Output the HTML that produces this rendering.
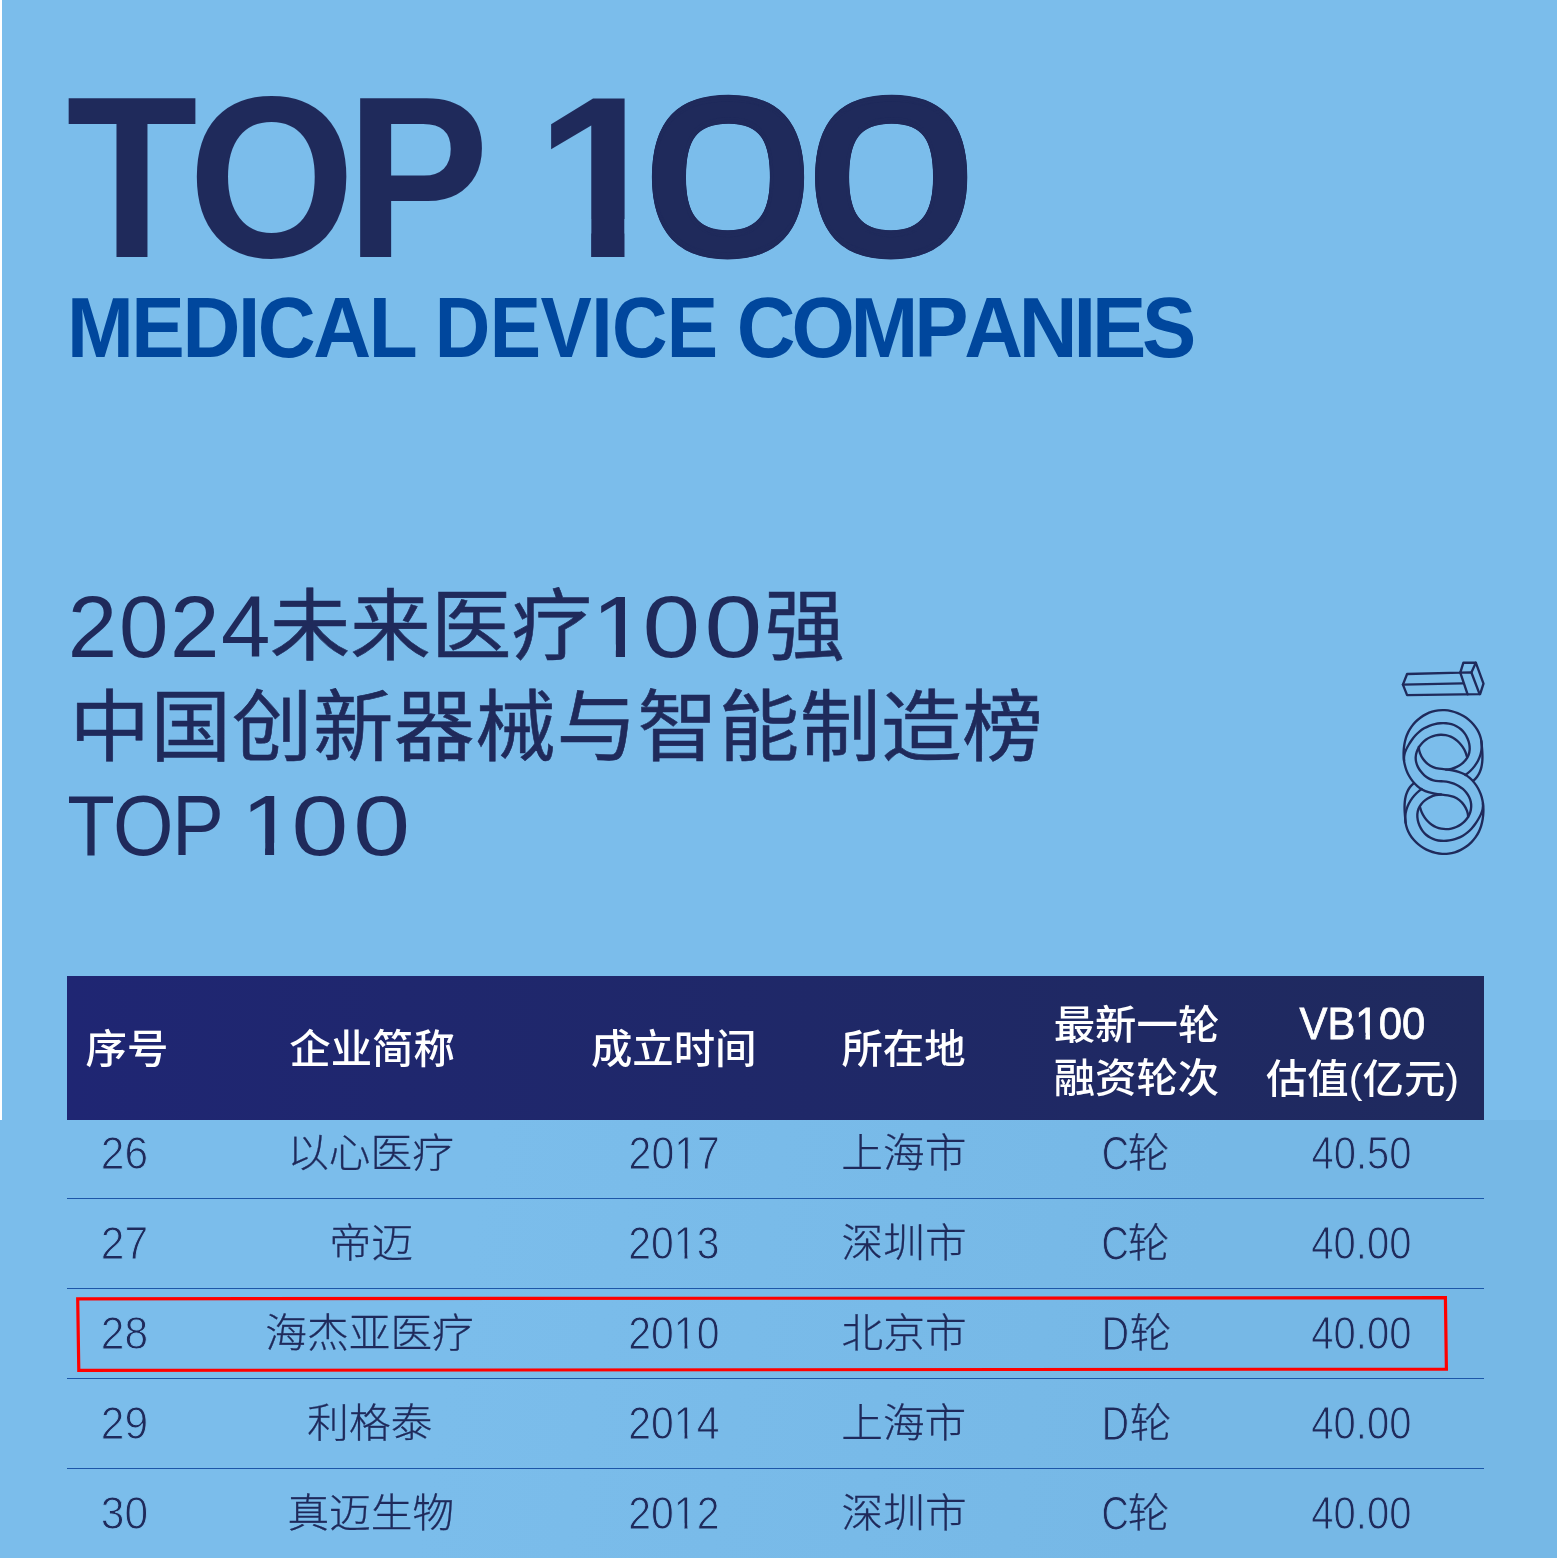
<!DOCTYPE html>
<html lang="zh-CN">
<head>
<meta charset="utf-8">
<title>2024未来医疗100强 中国创新器械与智能制造榜 TOP 100</title>
<style>
html,body{margin:0;padding:0;background:#fff}
body{width:1558px;height:1558px;overflow:hidden;position:relative;font-family:"Liberation Sans","Noto Sans CJK SC",sans-serif}
.page{position:absolute;left:0;top:0;width:1558px;height:1558px;overflow:hidden;background:#fff}
.bg1{position:absolute;left:2.4px;top:0;width:1554.3px;height:1120px;background:#7bbdeb}
.bg2{position:absolute;left:0;top:1119.6px;width:1556.7px;height:438.4px;background:linear-gradient(100deg,#7bbdeb 0%,#7bbdeb 30%,#76b8e6 75%,#76b8e6 100%)}
.ln{position:absolute;left:0;top:0;margin:0;padding:0;font-size:0;line-height:0;white-space:nowrap;font-weight:400}
.w{display:inline-block;width:0;height:0;overflow:visible;vertical-align:top;line-height:1;white-space:pre;transform-origin:0 0;font-kerning:none}
.fl::first-letter{letter-spacing:var(--fl)}
.lt{-webkit-text-stroke:1.0px #7bbdeb}
.hv{-webkit-text-stroke:.6px}
.rv{-webkit-text-stroke:.3px}
.hw{-webkit-text-stroke:.8px}
.z0{text-shadow:0.0117em 0 0,0.0108em 0.0124em 0,0.0083em 0.023em 0,0.0045em 0.03em 0,0 0.0325em 0,-0.0045em 0.03em 0,-0.0083em 0.023em 0,-0.0108em 0.0124em 0,-0.0117em 0 0,-0.0108em -0.0124em 0,-0.0083em -0.023em 0,-0.0045em -0.03em 0,0 -0.0325em 0,0.0045em -0.03em 0,0.0083em -0.023em 0,0.0108em -0.0124em 0}
.la{font-family:"Liberation Sans",sans-serif}
.zh{font-family:"Liberation Sans","Noto Sans CJK SC",sans-serif}
.title{color:#1f2a5b;font-weight:700}
.sub{color:#00479d;font-weight:700}
.cn{margin:0;color:#1f2a5b}
.logo,.mark{position:absolute;left:0;top:0;width:1558px;height:1558px;overflow:visible;pointer-events:none}
.logo path{fill:none;stroke:#1f2a5b;stroke-width:2.35;stroke-linejoin:round;stroke-linecap:round}
.thead-bg{position:absolute;left:67.4px;top:976px;width:1417px;height:143.8px;background:linear-gradient(90deg,#1f2673 0%,#1f2a5e 100%)}
.th{color:#fff}
.tr{color:#1f2a5b}
.hr{position:absolute;left:67.4px;width:1416.6px;height:1.4px;background:#1d56a8}
</style>
</head>
<body>
<main class="page">
<div class="bg1"></div>
<div class="bg2"></div>
<h1 class="title ln"><span id="t_top" class="w la" style="font-size:230.74px;letter-spacing:-10.319px;transform:translate(66.19px,62.02px) scale(0.9323,1)">TOP</span> <span id="t_1" class="w la" style="font-size:230.74px;clip-path:polygon(-92.30px -92.30px,220.62px -92.30px,220.62px 346.11px,123.40px 346.11px,123.40px 156.90px,85.51px 156.90px,85.51px 346.11px,53.85px 346.11px,53.85px 156.90px,13.03px 156.90px,13.03px 346.11px,-92.30px 346.11px);transform:translate(534.38px,62.02px) scale(1.0539,1)">1</span><span id="t_00" class="w la z0" style="font-size:212.86px;font-weight:400;letter-spacing:-4.013px;transform:translate(643.57px,70.41px) scale(1.4265,1)">00</span></h1>
<p class="sub ln"><span id="s_1" class="w la" style="font-size:85.81px;letter-spacing:-2.599px;transform:translate(66.92px,284.62px) scale(0.935,1)">MEDICAL</span> <span id="s_2" class="w la" style="font-size:85.81px;letter-spacing:-0.666px;transform:translate(434.77px,284.62px) scale(0.8965,1)">DEVICE</span> <span id="s_3" class="w la" style="font-size:85.81px;letter-spacing:-4.369px;transform:translate(736.81px,284.62px) scale(0.948,1)">COMPANIES</span></p>
<h2 class="cn"><span class="ln"><span id="h1_a" class="w la" style="font-size:86.4px;letter-spacing:1.648px;transform:translate(67.87px,583.94px) scale(1.0279,1)">2024</span><span id="h1_b" class="w zh hv" style="font-size:80.5px;letter-spacing:0.05px;transform:translate(269.81px,587.53px) scale(1,0.975)">未来医疗</span><span id="h1_c" class="w la fl" style="font-size:86.4px;letter-spacing:3.615px;--fl:-4.048px;clip-path:polygon(9.53px -34.56px,181.90px -34.56px,181.90px 129.60px,45.33px 129.60px,45.33px 60.48px,29.36px 60.48px,29.36px 129.60px,21.73px 129.60px,21.73px 60.48px,9.53px 60.48px,9.53px 129.60px,9.53px 129.60px);transform:translate(589.76px,583.94px) scale(1.2,1)">100</span><span id="h1_d" class="w zh hv" style="font-size:80.5px;transform:translate(764.56px,587.52px) scale(1,0.975)">强</span></span>
<span class="ln"><span id="h2_a" class="w zh hv" style="font-size:80.5px;letter-spacing:0.662px;transform:translate(69.45px,688.73px) scale(1,0.975)">中国创新器械与智能制造榜</span></span>
<span class="ln"><span id="h3_a" class="w la" style="font-size:85.11px;letter-spacing:-1.819px;transform:translate(67.14px,783.12px) scale(0.9145,1)">TOP</span> <span id="h3_b" class="w la fl" style="font-size:85.11px;letter-spacing:4.041px;--fl:-3.869px;clip-path:polygon(9.26px -34.04px,180.26px -34.04px,180.26px 127.66px,44.68px 127.66px,44.68px 59.58px,28.92px 59.58px,28.92px 127.66px,21.40px 127.66px,21.40px 59.58px,9.26px 59.58px,9.26px 127.66px,9.26px 127.66px);transform:translate(239.39px,783.12px) scale(1.2,1)">100</span></span></h2>
<svg class="logo" viewBox="0 0 1558 1558" aria-hidden="true"><path d="M1465.35 774.96C1467.04 773.85 1468.69 772.53 1470.24 771.03C1471.79 769.54 1473.25 767.88 1474.58 766.10C1475.90 764.32 1477.10 762.41 1478.11 760.42C1479.12 758.44 1479.96 756.38 1480.57 754.28C1481.19 752.18 1481.58 750.06 1481.72 747.93C1481.86 745.81 1481.77 743.69 1481.47 741.61C1481.17 739.52 1480.65 737.47 1479.94 735.47C1479.23 733.48 1478.32 731.54 1477.24 729.70C1476.17 727.85 1474.91 726.09 1473.50 724.44C1472.10 722.80 1470.54 721.27 1468.86 719.86C1467.18 718.46 1465.38 717.18 1463.49 716.04C1461.59 714.91 1459.61 713.92 1457.57 713.09C1455.53 712.26 1453.43 711.58 1451.30 711.08C1449.17 710.59 1447.01 710.26 1444.85 710.13C1442.69 709.99 1440.53 710.05 1438.40 710.31C1436.28 710.57 1434.18 711.03 1432.13 711.67C1430.09 712.30 1428.09 713.12 1426.18 714.09C1424.26 715.06 1422.42 716.19 1420.67 717.46C1418.93 718.73 1417.28 720.14 1415.75 721.68C1414.23 723.21 1412.82 724.86 1411.56 726.61C1410.29 728.36 1409.18 730.21 1408.22 732.14C1407.27 734.08 1406.49 736.09 1405.85 738.16C1405.22 740.23 1404.74 742.35 1404.38 744.50C1404.02 746.64 1403.79 748.81 1403.68 750.98C1403.56 753.14 1403.56 755.31 1403.70 757.46C1403.84 759.61 1404.12 761.75 1404.56 763.86C1405.00 765.97 1405.60 768.05 1406.37 770.09C1407.13 772.12 1408.06 774.10 1409.14 776.00C1410.22 777.89 1411.45 779.69 1412.81 781.38C1414.18 783.06 1415.68 784.62 1417.30 786.02C1418.93 787.42 1420.68 788.66 1422.54 789.70C1424.40 790.75 1426.38 791.59 1428.43 792.24C1430.49 792.89 1432.63 793.36 1434.80 793.73C1436.96 794.09 1439.16 794.34 1441.33 794.56C1443.51 794.78 1445.66 794.99 1447.77 795.34C1449.87 795.69 1451.91 796.18 1453.87 796.95C1455.82 797.73 1457.68 798.84 1459.38 800.21C1461.09 801.58 1462.62 803.21 1463.92 805.01C1465.22 806.81 1466.28 808.78 1467.02 810.82C1467.76 812.87 1468.18 814.99 1468.20 817.10"/><path d="M1421.65 789.04C1419.96 790.15 1418.31 791.47 1416.76 792.97C1415.21 794.46 1413.75 796.12 1412.42 797.90C1411.10 799.68 1409.90 801.59 1408.89 803.58C1407.88 805.56 1407.04 807.62 1406.43 809.72C1405.81 811.82 1405.42 813.94 1405.28 816.07C1405.14 818.19 1405.23 820.31 1405.53 822.39C1405.83 824.48 1406.35 826.53 1407.06 828.53C1407.77 830.52 1408.68 832.46 1409.76 834.30C1410.83 836.15 1412.09 837.91 1413.50 839.56C1414.90 841.20 1416.46 842.73 1418.14 844.14C1419.82 845.54 1421.62 846.82 1423.51 847.96C1425.41 849.09 1427.39 850.08 1429.43 850.91C1431.47 851.74 1433.57 852.42 1435.70 852.92C1437.83 853.41 1439.99 853.74 1442.15 853.87C1444.31 854.01 1446.47 853.95 1448.60 853.69C1450.72 853.43 1452.82 852.97 1454.87 852.33C1456.91 851.70 1458.91 850.88 1460.82 849.91C1462.74 848.94 1464.58 847.81 1466.33 846.54C1468.07 845.27 1469.72 843.86 1471.25 842.32C1472.77 840.79 1474.18 839.14 1475.44 837.39C1476.71 835.64 1477.82 833.79 1478.78 831.86C1479.73 829.92 1480.51 827.91 1481.15 825.84C1481.78 823.77 1482.26 821.65 1482.62 819.50C1482.98 817.36 1483.21 815.19 1483.32 813.02C1483.44 810.86 1483.44 808.69 1483.30 806.54C1483.16 804.39 1482.88 802.25 1482.44 800.14C1482.00 798.03 1481.40 795.95 1480.63 793.91C1479.87 791.88 1478.94 789.90 1477.86 788.00C1476.78 786.11 1475.55 784.31 1474.19 782.62C1472.82 780.94 1471.32 779.38 1469.70 777.98C1468.07 776.58 1466.32 775.34 1464.46 774.30C1462.60 773.25 1460.62 772.41 1458.57 771.76C1456.51 771.11 1454.37 770.64 1452.20 770.27C1450.04 769.91 1447.84 769.66 1445.67 769.44C1443.49 769.22 1441.34 769.01 1439.23 768.66C1437.13 768.31 1435.09 767.82 1433.13 767.05C1431.18 766.27 1429.32 765.16 1427.62 763.79C1425.91 762.42 1424.38 760.79 1423.08 758.99C1421.78 757.19 1420.72 755.22 1419.98 753.18C1419.24 751.13 1418.82 749.01 1418.80 746.90"/><path d="M1404.10 760.50C1403.88 758.51 1404.01 756.63 1404.38 754.84C1404.76 753.04 1405.37 751.32 1406.13 749.64C1406.89 747.97 1407.78 746.34 1408.73 744.72C1409.68 743.10 1410.70 741.50 1411.80 739.96C1412.89 738.42 1414.07 736.93 1415.34 735.53C1416.61 734.12 1417.98 732.80 1419.44 731.59C1420.91 730.38 1422.48 729.29 1424.13 728.32C1425.79 727.35 1427.52 726.51 1429.31 725.80C1431.10 725.09 1432.94 724.51 1434.80 724.08C1436.66 723.64 1438.55 723.35 1440.43 723.21C1442.31 723.07 1444.19 723.07 1446.03 723.24C1447.87 723.41 1449.68 723.73 1451.43 724.23C1453.17 724.72 1454.86 725.38 1456.45 726.22C1458.04 727.05 1459.54 728.07 1460.93 729.26C1462.31 730.46 1463.57 731.85 1464.68 733.40C1465.79 734.94 1466.75 736.63 1467.52 738.41C1468.30 740.19 1468.89 742.05 1469.25 743.93C1469.62 745.81 1469.77 747.72 1469.66 749.58C1469.56 751.44 1469.20 753.27 1468.55 754.99C1467.91 756.71 1466.96 758.32 1465.80 759.80C1464.64 761.28 1463.25 762.63 1461.72 763.82C1460.19 765.01 1458.51 766.04 1456.77 766.89C1455.02 767.74 1453.20 768.40 1451.38 768.85C1449.56 769.30 1447.74 769.55 1446.01 769.55"/><path d="M1482.90 803.50C1483.12 805.49 1482.99 807.37 1482.62 809.16C1482.24 810.96 1481.63 812.68 1480.87 814.36C1480.11 816.03 1479.22 817.66 1478.27 819.28C1477.32 820.90 1476.30 822.50 1475.20 824.04C1474.11 825.58 1472.93 827.07 1471.66 828.47C1470.39 829.88 1469.02 831.20 1467.56 832.41C1466.09 833.62 1464.52 834.71 1462.87 835.68C1461.21 836.65 1459.48 837.49 1457.69 838.20C1455.90 838.91 1454.06 839.49 1452.20 839.92C1450.34 840.36 1448.45 840.65 1446.57 840.79C1444.69 840.93 1442.81 840.93 1440.97 840.76C1439.13 840.59 1437.32 840.27 1435.57 839.77C1433.83 839.28 1432.14 838.62 1430.55 837.78C1428.96 836.95 1427.46 835.93 1426.07 834.74C1424.69 833.54 1423.43 832.15 1422.32 830.60C1421.21 829.06 1420.25 827.37 1419.48 825.59C1418.70 823.81 1418.11 821.95 1417.75 820.07C1417.38 818.19 1417.23 816.28 1417.34 814.42C1417.44 812.56 1417.80 810.73 1418.45 809.01C1419.09 807.29 1420.04 805.68 1421.20 804.20C1422.36 802.72 1423.75 801.37 1425.28 800.18C1426.81 798.99 1428.49 797.96 1430.23 797.11C1431.98 796.26 1433.80 795.60 1435.62 795.15C1437.44 794.70 1439.26 794.45 1440.99 794.45"/><path d="M1466.80 756.30C1466.44 754.69 1465.89 753.08 1465.19 751.50C1464.48 749.93 1463.62 748.39 1462.62 746.92C1461.62 745.46 1460.49 744.06 1459.25 742.78C1458.01 741.49 1456.66 740.32 1455.22 739.29C1453.78 738.27 1452.26 737.39 1450.68 736.69C1449.10 736.00 1447.46 735.49 1445.78 735.18C1444.11 734.86 1442.41 734.73 1440.70 734.77C1439.00 734.82 1437.29 735.03 1435.62 735.41C1433.94 735.79 1432.30 736.34 1430.72 737.04C1429.14 737.74 1427.62 738.59 1426.19 739.58C1424.76 740.57 1423.43 741.71 1422.22 742.98C1421.01 744.24 1419.92 745.65 1418.99 747.16C1418.06 748.67 1417.30 750.28 1416.73 751.94C1416.17 753.60 1415.82 755.31 1415.71 757.01C1415.60 758.71 1415.76 760.40 1416.14 762.05C1416.51 763.70 1417.11 765.32 1417.88 766.87C1418.66 768.43 1419.61 769.93 1420.70 771.34C1421.79 772.75 1423.02 774.08 1424.35 775.27C1425.68 776.46 1427.12 777.51 1428.64 778.37C1430.15 779.24 1431.74 779.91 1433.38 780.35C1435.02 780.78 1436.70 780.98 1438.41 781.10C1440.12 781.22 1441.85 781.25 1443.59 781.36C1445.33 781.47 1447.07 781.66 1448.79 782.03C1450.51 782.40 1452.21 782.92 1453.86 783.57C1455.50 784.22 1457.10 785.00 1458.61 785.91C1460.12 786.81 1461.54 787.84 1462.86 788.98C1464.17 790.11 1465.37 791.35 1466.42 792.69C1467.47 794.02 1468.38 795.45 1469.11 796.96C1469.85 798.48 1470.40 800.07 1470.76 801.73C1471.11 803.39 1471.25 805.12 1471.17 806.87C1471.09 808.62 1470.80 810.37 1470.28 812.07C1469.76 813.76 1469.02 815.38 1468.09 816.91C1467.16 818.43 1466.06 819.85 1464.83 821.13C1463.60 822.41 1462.25 823.54 1460.81 824.53C1459.37 825.51 1457.84 826.34 1456.26 827.01C1454.68 827.69 1453.03 828.20 1451.36 828.56C1449.69 828.91 1447.99 829.10 1446.29 829.13C1444.58 829.16 1442.88 829.02 1441.21 828.71C1439.54 828.40 1437.90 827.92 1436.32 827.27C1434.73 826.61 1433.21 825.78 1431.77 824.78C1430.34 823.77 1428.99 822.60 1427.75 821.30C1426.51 820.01 1425.38 818.59 1424.39 817.10C1423.39 815.62 1422.53 814.06 1421.83 812.47C1421.12 810.89 1420.57 809.29 1420.20 807.70"/><path d="M1481.30 741.00C1481.47 742.69 1481.66 744.41 1481.83 746.17C1482.00 747.92 1482.16 749.70 1482.27 751.50C1482.39 753.29 1482.46 755.09 1482.46 756.88C1482.46 758.67 1482.38 760.45 1482.21 762.20C1482.03 763.95 1481.75 765.68 1481.35 767.36C1480.94 769.04 1480.40 770.67 1479.70 772.24C1479.01 773.81 1478.15 775.31 1477.10 776.73C1476.06 778.16 1474.83 779.49 1473.38 780.73"/><path d="M1405.70 823.00C1405.53 821.31 1405.34 819.59 1405.17 817.83C1405.00 816.08 1404.84 814.30 1404.73 812.50C1404.61 810.71 1404.54 808.91 1404.54 807.12C1404.54 805.33 1404.62 803.55 1404.79 801.80C1404.97 800.05 1405.25 798.32 1405.65 796.64C1406.06 794.96 1406.60 793.33 1407.30 791.76C1407.99 790.19 1408.85 788.69 1409.90 787.27C1410.94 785.84 1412.17 784.51 1413.62 783.27"/><path d="M1407.1 674.0L1402.9 684.6L1407.1 695.1L1480.1 694.1L1483.5 683.6L1475.8 662.7L1463.4 662.7L1460.3 672.7Z"/><path d="M1402.9 684.6L1462.6 683.4"/><path d="M1460.3 672.7L1467.6 694.3"/><path d="M1460.3 672.7L1471.4 672.5L1479.6 694.1"/><path d="M1475.8 662.7L1471.4 672.5"/></svg>
<div class="table" role="table">
<div class="thead-bg"></div>
<div class="thead" role="row"><div class="th" role="columnheader"><div class="ln"><span id="th1" class="w zh" style="font-size:41.4px;font-weight:500;transform:translate(85.53px,1030.15px) scale(1,0.9697)">序号</span></div></div>
<div class="th" role="columnheader"><div class="ln"><span id="th2" class="w zh" style="font-size:41.4px;font-weight:500;transform:translate(289.27px,1030.15px) scale(1,0.9697)">企业简称</span></div></div>
<div class="th" role="columnheader"><div class="ln"><span id="th3" class="w zh" style="font-size:41.4px;font-weight:500;transform:translate(590.89px,1030.15px) scale(1,0.9697)">成立时间</span></div></div>
<div class="th" role="columnheader"><div class="ln"><span id="th4" class="w zh" style="font-size:41.4px;font-weight:500;transform:translate(841.45px,1030.15px) scale(1,0.9697)">所在地</span></div></div>
<div class="th" role="columnheader"><div class="ln"><span id="th5a" class="w zh" style="font-size:41.4px;font-weight:500;transform:translate(1053.73px,1006.21px) scale(1,0.9697)">最新一轮</span></div>
<div class="ln"><span id="th5b" class="w zh" style="font-size:41.4px;font-weight:500;transform:translate(1053.69px,1059.32px) scale(1,0.9697)">融资轮次</span></div></div>
<div class="th" role="columnheader"><div class="ln"><span id="th6a" class="w la hw" style="font-size:45.14px;clip-path:polygon(-18.06px -18.06px,153.59px -18.06px,153.59px 67.71px,85.02px 67.71px,85.02px 31.60px,75.96px 31.60px,75.96px 67.71px,71.17px 67.71px,71.17px 31.60px,61.75px 31.60px,61.75px 67.71px,-18.06px 67.71px);transform:translate(1299.48px,1001.18px) scale(0.9282,1)">VB100</span></div>
<div class="ln"><span id="th6b" class="w zh" style="font-size:41.4px;font-weight:500;transform:translate(1265.97px,1059.81px) scale(1,0.9697)">估值(亿元)</span></div></div>
</div>
<div class="tr ln" role="row"><span class="td" role="cell"><span id="r0c1" class="w la lt" style="font-size:46.44px;transform:translate(100.82px,1130.34px) scale(0.9158,1)">26</span></span> <span class="td" role="cell"><span id="r0c2" class="w zh rv" style="font-size:41.69px;font-weight:300;transform:translate(287.14px,1133.49px) scale(1,0.9599)">以心医疗</span></span> <span class="td" role="cell"><span id="r0c3" class="w la lt" style="font-size:46.44px;-webkit-text-stroke-color:#7abcea;clip-path:polygon(-18.58px -18.58px,121.89px -18.58px,121.89px 69.66px,77.22px 69.66px,77.22px 32.51px,66.94px 32.51px,66.94px 69.66px,63.83px 69.66px,63.83px 32.51px,53.19px 32.51px,53.19px 69.66px,-18.58px 69.66px);transform:translate(628.61px,1130.34px) scale(0.8817,1)">2017</span></span> <span class="td" role="cell"><span id="r0c4" class="w zh rv" style="font-size:41.69px;font-weight:300;transform:translate(841.3px,1133.49px) scale(1,0.9599)">上海市</span></span> <span class="td" role="cell"><span id="r0c5a" class="w la lt" style="font-size:47.75px;-webkit-text-stroke-color:#77b9e7;transform:translate(1101.65px,1129.9px) scale(0.7912,1)">C</span><span id="r0c5b" class="w zh rv" style="font-size:41.69px;font-weight:300;transform:translate(1127.65px,1133.49px) scale(1,0.9599)">轮</span></span> <span class="td" role="cell"><span id="r0c6" class="w la lt" style="font-size:46.44px;-webkit-text-stroke-color:#76b8e6;transform:translate(1311.42px,1130.34px) scale(0.8611,1)">40.50</span></span></div>
<div class="tr ln" role="row"><span class="td" role="cell"><span id="r1c1" class="w la lt" style="font-size:46.44px;transform:translate(100.86px,1220.34px) scale(0.9158,1)">27</span></span> <span class="td" role="cell"><span id="r1c2" class="w zh rv" style="font-size:41.69px;font-weight:300;transform:translate(329.58px,1223.49px) scale(1,0.9599)">帝迈</span></span> <span class="td" role="cell"><span id="r1c3" class="w la lt" style="font-size:46.44px;-webkit-text-stroke-color:#7abcea;clip-path:polygon(-18.58px -18.58px,121.89px -18.58px,121.89px 69.66px,77.22px 69.66px,77.22px 32.51px,66.94px 32.51px,66.94px 69.66px,63.83px 69.66px,63.83px 32.51px,53.19px 32.51px,53.19px 69.66px,-18.58px 69.66px);transform:translate(628.32px,1220.34px) scale(0.8817,1)">2013</span></span> <span class="td" role="cell"><span id="r1c4" class="w zh rv" style="font-size:41.69px;font-weight:300;transform:translate(841.61px,1223.49px) scale(1,0.9599)">深圳市</span></span> <span class="td" role="cell"><span id="r1c5a" class="w la lt" style="font-size:47.75px;-webkit-text-stroke-color:#77b9e7;transform:translate(1101.46px,1219.9px) scale(0.7912,1)">C</span><span id="r1c5b" class="w zh rv" style="font-size:41.69px;font-weight:300;transform:translate(1127.78px,1223.49px) scale(1,0.9599)">轮</span></span> <span class="td" role="cell"><span id="r1c6" class="w la lt" style="font-size:46.44px;-webkit-text-stroke-color:#76b8e6;transform:translate(1311.34px,1220.34px) scale(0.8611,1)">40.00</span></span></div>
<div class="tr ln" role="row"><span class="td" role="cell"><span id="r2c1" class="w la lt" style="font-size:46.44px;transform:translate(100.86px,1310.34px) scale(0.9158,1)">28</span></span> <span class="td" role="cell"><span id="r2c2" class="w zh rv" style="font-size:41.69px;font-weight:300;transform:translate(265.32px,1313.49px) scale(1,0.9599)">海杰亚医疗</span></span> <span class="td" role="cell"><span id="r2c3" class="w la lt" style="font-size:46.44px;-webkit-text-stroke-color:#7abcea;clip-path:polygon(-18.58px -18.58px,121.89px -18.58px,121.89px 69.66px,77.22px 69.66px,77.22px 32.51px,66.94px 32.51px,66.94px 69.66px,63.83px 69.66px,63.83px 32.51px,53.19px 32.51px,53.19px 69.66px,-18.58px 69.66px);transform:translate(628.32px,1310.34px) scale(0.8817,1)">2010</span></span> <span class="td" role="cell"><span id="r2c4" class="w zh rv" style="font-size:41.69px;font-weight:300;transform:translate(841.6px,1313.49px) scale(1,0.9599)">北京市</span></span> <span class="td" role="cell"><span id="r2c5a" class="w la lt" style="font-size:47.75px;-webkit-text-stroke-color:#77b9e7;transform:translate(1101.78px,1309.9px) scale(0.7912,1)">D</span><span id="r2c5b" class="w zh rv" style="font-size:41.69px;font-weight:300;transform:translate(1129.78px,1313.49px) scale(1,0.9599)">轮</span></span> <span class="td" role="cell"><span id="r2c6" class="w la lt" style="font-size:46.44px;-webkit-text-stroke-color:#76b8e6;transform:translate(1311.34px,1310.34px) scale(0.8611,1)">40.00</span></span></div>
<div class="tr ln" role="row"><span class="td" role="cell"><span id="r3c1" class="w la lt" style="font-size:46.44px;transform:translate(100.86px,1400.34px) scale(0.9158,1)">29</span></span> <span class="td" role="cell"><span id="r3c2" class="w zh rv" style="font-size:41.69px;font-weight:300;transform:translate(307.28px,1403.49px) scale(1,0.9599)">利格泰</span></span> <span class="td" role="cell"><span id="r3c3" class="w la lt" style="font-size:46.44px;-webkit-text-stroke-color:#7abcea;clip-path:polygon(-18.58px -18.58px,121.89px -18.58px,121.89px 69.66px,77.22px 69.66px,77.22px 32.51px,66.94px 32.51px,66.94px 69.66px,63.83px 69.66px,63.83px 32.51px,53.19px 32.51px,53.19px 69.66px,-18.58px 69.66px);transform:translate(628.32px,1400.34px) scale(0.8817,1)">2014</span></span> <span class="td" role="cell"><span id="r3c4" class="w zh rv" style="font-size:41.69px;font-weight:300;transform:translate(841.25px,1403.49px) scale(1,0.9599)">上海市</span></span> <span class="td" role="cell"><span id="r3c5a" class="w la lt" style="font-size:47.75px;-webkit-text-stroke-color:#77b9e7;transform:translate(1101.78px,1399.9px) scale(0.7912,1)">D</span><span id="r3c5b" class="w zh rv" style="font-size:41.69px;font-weight:300;transform:translate(1129.78px,1403.49px) scale(1,0.9599)">轮</span></span> <span class="td" role="cell"><span id="r3c6" class="w la lt" style="font-size:46.44px;-webkit-text-stroke-color:#76b8e6;transform:translate(1311.34px,1400.34px) scale(0.8611,1)">40.00</span></span></div>
<div class="tr ln" role="row"><span class="td" role="cell"><span id="r4c1" class="w la lt" style="font-size:46.44px;transform:translate(100.76px,1490.34px) scale(0.9158,1)">30</span></span> <span class="td" role="cell"><span id="r4c2" class="w zh rv" style="font-size:41.69px;font-weight:300;transform:translate(287.41px,1493.49px) scale(1,0.9599)">真迈生物</span></span> <span class="td" role="cell"><span id="r4c3" class="w la lt" style="font-size:46.44px;-webkit-text-stroke-color:#79bbe9;clip-path:polygon(-18.58px -18.58px,121.89px -18.58px,121.89px 69.66px,77.22px 69.66px,77.22px 32.51px,66.94px 32.51px,66.94px 69.66px,63.83px 69.66px,63.83px 32.51px,53.19px 32.51px,53.19px 69.66px,-18.58px 69.66px);transform:translate(628.32px,1490.34px) scale(0.8817,1)">2012</span></span> <span class="td" role="cell"><span id="r4c4" class="w zh rv" style="font-size:41.69px;font-weight:300;transform:translate(841.61px,1493.49px) scale(1,0.9599)">深圳市</span></span> <span class="td" role="cell"><span id="r4c5a" class="w la lt" style="font-size:47.75px;-webkit-text-stroke-color:#77b9e7;transform:translate(1101.46px,1489.9px) scale(0.7912,1)">C</span><span id="r4c5b" class="w zh rv" style="font-size:41.69px;font-weight:300;transform:translate(1127.78px,1493.49px) scale(1,0.9599)">轮</span></span> <span class="td" role="cell"><span id="r4c6" class="w la lt" style="font-size:46.44px;-webkit-text-stroke-color:#76b8e6;transform:translate(1311.34px,1490.34px) scale(0.8611,1)">40.00</span></span></div>
<div class="hr" style="top:1197.8px"></div><div class="hr" style="top:1287.8px"></div><div class="hr" style="top:1377.8px"></div><div class="hr" style="top:1467.8px"></div>
</div>
<svg class="mark" viewBox="0 0 1558 1558" aria-hidden="true"><polygon points="77.7,1298.8 1445.4,1297.7 1446.4,1369.1 78.8,1370.4" fill="none" stroke="#ff0000" stroke-width="3.2" stroke-linejoin="miter"/></svg>
</main>
</body>
</html>
